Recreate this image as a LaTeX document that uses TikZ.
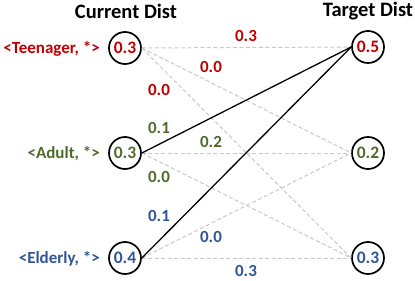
\documentclass[tikz,border=0pt]{standalone}
\usepackage{fontspec}
\setmainfont{Carlito}
\definecolor{cred}{HTML}{C00000}
\definecolor{cgreen}{HTML}{4F6B2B}
\definecolor{cblue}{HTML}{2F5597}
\definecolor{cgray}{RGB}{200,200,200}
\begin{document}
\begin{tikzpicture}[x=1pt,y=-1pt,
  dist/.style={circle,draw=black,line width=1.7pt,minimum size=32pt,inner sep=0pt,font=\fontsize{17.5}{19}\selectfont\bfseries},
  lab/.style={font=\fontsize{17}{19}\selectfont\bfseries,inner sep=0pt},
  ttl/.style={font=\fontsize{20.5}{22}\selectfont\bfseries,inner sep=0pt},
  dline/.style={draw=cgray,line width=1pt,dash pattern=on 4pt off 2.5pt},
  sline/.style={draw=black,line width=1.3pt}]
\useasboundingbox (0,0) rectangle (415,281);
\node[ttl] (h1) at (126,11) {Current Dist};
\node[ttl] (h2) at (368,11) {Target Dist};
\node[dist,text=cred] (c1) at (125,48) {0.3};
\node[dist,text=cgreen] (c2) at (125,153) {0.3};
\node[dist,text=cblue] (c3) at (125,258) {0.4};
\node[dist,text=cred] (t1) at (368,47) {0.5};
\node[dist,text=cgreen] (t2) at (368,153) {0.2};
\node[dist,text=cblue] (t3) at (368,258) {0.3};
\node[lab,text=cred,anchor=base east] (l1) at (100,53.5) {<Teenager, *>};
\node[lab,text=cgreen,anchor=base east] (l2) at (100,158.5) {<Adult, *>};
\node[lab,text=cblue,anchor=base east] (l3) at (100,263.5) {<Elderly, *>};
\draw[dline] (c1.east) -- (t1.west);
\draw[dline] (c1.east) -- (t2.west);
\draw[dline] (c1.east) -- (t3.west);
\draw[dline] (c2.east) -- (t2.west);
\draw[dline] (c2.east) -- (t3.west);
\draw[dline] (c3.east) -- (t2.west);
\draw[dline] (c3.east) -- (t3.west);
\draw[sline] (c2.east) -- (t1.west);
\draw[sline] (c3.east) -- (t1.west);
\node[lab,text=cred] (e11) at (246,36) {0.3};
\node[lab,text=cred] (e12) at (211,67) {0.0};
\node[lab,text=cred] (e13) at (159,90) {0.0};
\node[lab,text=cgreen] (e21) at (159,128) {0.1};
\node[lab,text=cgreen] (e22) at (211,142) {0.2};
\node[lab,text=cgreen] (e23) at (159,177) {0.0};
\node[lab,text=cblue] (e31) at (159,216) {0.1};
\node[lab,text=cblue] (e32) at (211,237) {0.0};
\node[lab,text=cblue] (e33) at (246,271) {0.3};
\end{tikzpicture}
\end{document}
